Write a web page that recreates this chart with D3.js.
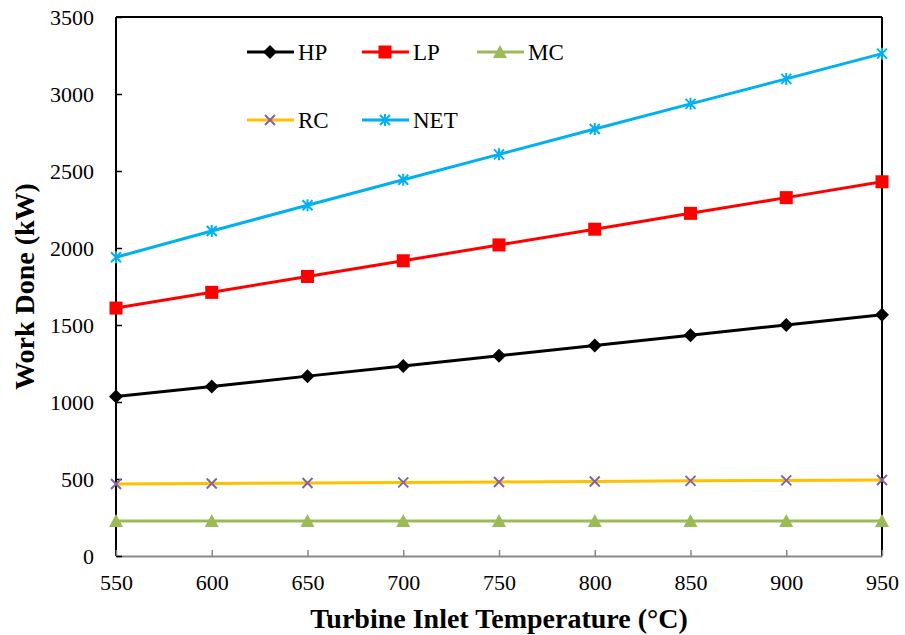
<!DOCTYPE html>
<html><head><meta charset="utf-8">
<script src="https://cdn.jsdelivr.net/npm/d3@7"></script>
<style>body{margin:0;background:#fff}svg{display:block}</style>
</head><body>
<svg id="c" width="905" height="635"></svg>
<script>
const temps = [550,600,650,700,750,800,850,900,950];
const hp  = [1035,1101,1168,1234,1301,1367,1434,1500,1567];
const lp  = [1610,1712,1815,1917,2020,2122,2225,2327,2430];
const mc  = [228,228,228,228,228,228,228,228,228];
const rc  = [467,471,474,478,481,484,488,491,494];
const net = [1940,2110,2278,2443,2608,2773,2936,3098,3262];
const yTicks = [0,500,1000,1500,2000,2500,3000,3500];
const xTicks = [550,600,650,700,750,800,850,900,950];

const series = [
  {name:"HP", values:hp, line:"#000000", mark:"#000000", shape:"diamond"},
  {name:"LP", values:lp, line:"#ff0000", mark:"#ff0000", shape:"square"},
  {name:"MC", values:mc, line:"#9bbb59", mark:"#9bbb59", shape:"triangle"},
  {name:"RC", values:rc, line:"#ffc000", mark:"#8064a2", shape:"x"},
  {name:"NET", values:net, line:"#00b0f0", mark:"#00b0f0", shape:"star"}
];

const svg = d3.select("#c");
const L=116, R=882, T=17, B=556;
const x = d3.scaleLinear().domain([550,950]).range([L,R]);
const y = d3.scaleLinear().domain([0,3500]).range([B,T]);
const font = "'Liberation Serif','Times New Roman',serif";

// frame
svg.append("line").attr("x1",L).attr("x2",R).attr("y1",T).attr("y2",T).attr("stroke","#000").attr("stroke-width",2);
svg.append("line").attr("x1",R).attr("x2",R).attr("y1",T).attr("y2",B).attr("stroke","#000").attr("stroke-width",2);
svg.append("line").attr("x1",L).attr("x2",L).attr("y1",T).attr("y2",B).attr("stroke","#000").attr("stroke-width",2);

// x axis
const xa = svg.append("g").attr("transform",`translate(0,${B})`)
  .call(d3.axisBottom(x).tickValues(xTicks).tickSize(-6).tickSizeOuter(0).tickFormat(d3.format("d")));
xa.select(".domain").attr("stroke","#888").attr("stroke-width",2);
xa.selectAll(".tick line").attr("stroke","#888").attr("stroke-width",1.5);
xa.selectAll(".tick text").attr("font-family",font).attr("font-size",22).attr("fill","#000").attr("dy","0").attr("y",34);

// y axis
const ya = svg.append("g").attr("transform",`translate(${L},0)`)
  .call(d3.axisLeft(y).tickValues(yTicks).tickSize(-6).tickSizeOuter(0).tickFormat(d3.format("d")));
ya.select(".domain").remove();
ya.selectAll(".tick line").attr("stroke","#000").attr("stroke-width",1.5);
ya.selectAll(".tick text").attr("font-family",font).attr("font-size",22).attr("fill","#000").attr("x",-22).attr("dy","0.35em");

// titles
svg.append("text").attr("x",(L+R)/2).attr("y",628).attr("text-anchor","middle")
  .attr("font-family",font).attr("font-weight","bold").attr("font-size",28).text("Turbine Inlet Temperature (°C)");
svg.append("text").attr("transform",`translate(34,${(T+B)/2}) rotate(-90)`).attr("text-anchor","middle")
  .attr("font-family",font).attr("font-weight","bold").attr("font-size",28).text("Work Done (kW)");

function marker(g, shape, color){
  if(shape==="diamond") g.append("path").attr("d","M0,-7L7,0L0,7L-7,0Z").attr("fill",color);
  else if(shape==="square") g.append("rect").attr("x",-6.5).attr("y",-6.5).attr("width",13).attr("height",13).attr("fill",color);
  else if(shape==="triangle") g.append("path").attr("d","M0,-7L7,6L-7,6Z").attr("fill",color);
  else if(shape==="x") g.append("path").attr("d","M-5,-5L5,5M-5,5L5,-5").attr("stroke",color).attr("stroke-width",2).attr("fill","none");
  else if(shape==="star") g.append("path").attr("d","M-5,-5L5,5M-5,5L5,-5M0,-6L0,6").attr("stroke",color).attr("stroke-width",2).attr("fill","none");
}

const line = d3.line().x((d,i)=>x(temps[i])).y(d=>y(d));
series.forEach(s=>{
  svg.append("path").datum(s.values).attr("d",line).attr("fill","none").attr("stroke",s.line).attr("stroke-width",3);
  s.values.forEach((v,i)=>{
    marker(svg.append("g").attr("transform",`translate(${x(temps[i])},${y(v)})`), s.shape, s.mark);
  });
});

// legend
const legPos = [[247,52],[362,52],[477,52],[247,120],[362,120]];
series.forEach((s,i)=>{
  const [lx,ly] = legPos[i];
  svg.append("line").attr("x1",lx).attr("x2",lx+47).attr("y1",ly).attr("y2",ly).attr("stroke",s.line).attr("stroke-width",3);
  marker(svg.append("g").attr("transform",`translate(${lx+23},${ly})`), s.shape, s.mark);
  svg.append("text").attr("x",lx+51).attr("y",ly).attr("dy","0.35em").attr("font-family",font).attr("font-size",23).text(s.name);
});
</script>
</body></html>
